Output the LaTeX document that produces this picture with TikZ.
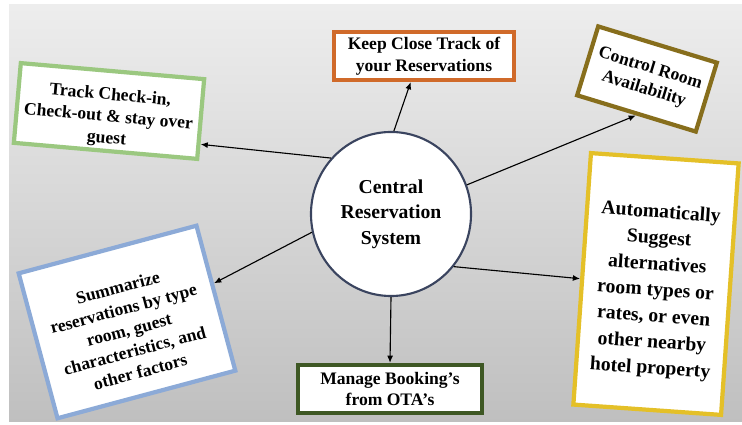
\documentclass[tikz,border=0pt]{standalone}
\usepackage{fontspec}
\setmainfont{Liberation Serif}
\usetikzlibrary{arrows.meta,shapes.geometric}

\definecolor{keeporange}{RGB}{208,106,42}
\definecolor{trackgreen}{RGB}{155,200,128}
\definecolor{roomolive}{RGB}{135,110,28}
\definecolor{suggestgold}{RGB}{228,192,40}
\definecolor{summblue}{RGB}{140,170,215}
\definecolor{otagreen}{RGB}{62,88,36}
\definecolor{crsnavy}{RGB}{58,68,95}

\begin{document}
\begin{tikzpicture}[x=0.025cm, y=-0.025cm,
    box/.style={draw, fill=white, line width=3pt, align=center, inner sep=2pt,
      font=\fontsize{12.5}{15.5}\selectfont\bfseries},
    hub/.style={ellipse, draw=crsnavy, line width=1.5pt, fill=white,
      align=center, inner sep=0pt, font=\fontsize{14}{18}\selectfont\bfseries},
    fl/.style={-{Latex[length=1.8mm,width=1.5mm]}, line width=0.8pt}
  ]
    \useasboundingbox[fill=white] (0,0) rectangle (742,425);
    \shade[top color=black!7, bottom color=black!25] (9,5) rectangle (742,421);

    \node[hub, minimum width=4cm, minimum height=4.1cm] (crs) at (391,214)
      {Central\\Reservation\\System};

    \node[box, draw=keeporange, minimum width=4.5cm, minimum height=1.2cm]
      (keep) at (424,56) {Keep Close Track of\\your Reservations};
    \node[box, draw=trackgreen, rotate=-5, minimum width=4.6cm,
      minimum height=2cm] (track) at (109,111)
      {\rule{0pt}{18pt}Track Check-in,\\Check-out \& stay over\\guest};
    \node[box, draw=roomolive, rotate=-17, minimum width=3.1cm,
      minimum height=1.8cm] (ctrl) at (647,79) {Control Room\\Availability};
    \node[box, draw=suggestgold, rotate=-4, minimum width=3.7cm,
      minimum height=6.3cm, font=\fontsize{14}{18.5}\selectfont\bfseries]
      (suggest) at (656,284) {\rule{0pt}{20pt}Automatically\\Suggest\\
      alternatives\\room types or\\rates, or even\\other nearby\\hotel property};
    \node[box, draw=summblue, rotate=15, minimum width=4.6cm,
      minimum height=3.75cm] (summ) at (127,322)
      {\rule{0pt}{20pt}Summarize\\reservations by type\\room, guest\\
      characteristics, and\\other factors};
    \node[box, draw=otagreen, minimum width=4.6cm, minimum height=1.2cm]
      (ota) at (390,389) {Manage Booking's\\from OTA's};

    \foreach \a/\b in {crs.88/keep.-117, crs.137/track.-15, crs.21/ctrl.south,
      crs.-40/suggest.west, crs.193/summ.9, crs.south/ota.north} {
      \draw[fl] (\a) -- (\b);
    }
  \end{tikzpicture}
\end{document}
